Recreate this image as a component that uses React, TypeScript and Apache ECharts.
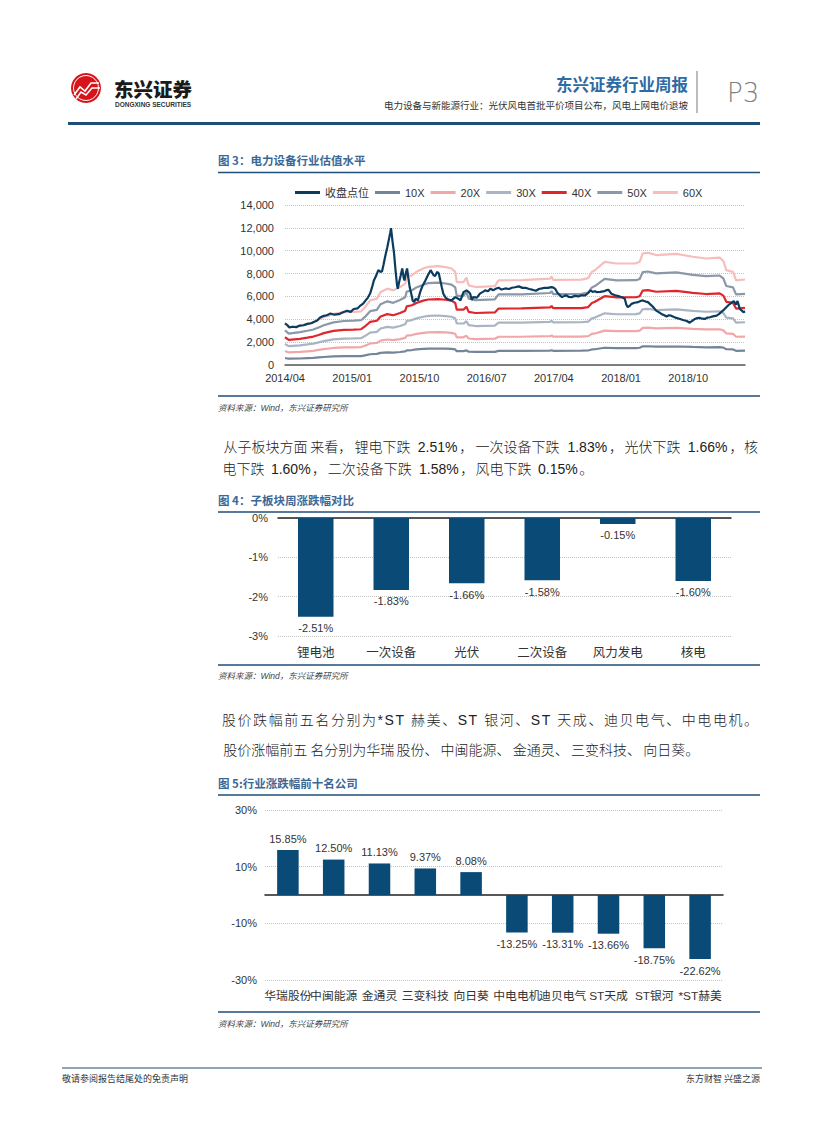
import React, { useEffect, useRef } from "react";
import * as echarts from "echarts";

// ---------------- Data ----------------
// Figure 3: 电力设备行业估值水平 (x = months since 2014/04)
const closeSeries: number[][] = [
  [0, 3650], [0.3, 3500], [0.6, 3280], [1.0, 3350], [1.5, 3300], [2.0, 3450], [2.5, 3480], [3.0, 3600],
  [3.5, 3650], [4.0, 3800], [4.3, 3900], [4.7, 4150], [5.2, 4300], [5.6, 4350], [6.1, 4500], [6.6, 4400],
  [7.2, 4450], [7.7, 4600], [8.3, 4750], [8.8, 4650], [9.2, 4900], [9.7, 4950], [10.1, 5200], [10.5, 5400],
  [10.8, 5650], [11.1, 5900], [11.4, 6250], [11.7, 6900], [11.9, 7400], [12.2, 7800], [12.5, 8300], [12.8, 8150],
  [13.0, 8200], [13.2, 8800], [13.4, 9450], [13.7, 10300], [13.9, 10950], [14.1, 11600], [14.2, 11970], [14.4, 10800],
  [14.6, 9800], [14.8, 8300], [15.0, 7000], [15.1, 6680], [15.3, 7300], [15.5, 7850], [15.7, 8450], [15.9, 7600],
  [16.0, 7400], [16.2, 8100], [16.35, 8450], [16.5, 7700], [16.7, 6800], [16.9, 6250], [17.1, 5650], [17.3, 5500],
  [17.5, 5800], [17.8, 5650], [18.1, 6380], [18.4, 6900], [18.8, 7400], [19.1, 7800], [19.5, 8300], [19.9, 7850],
  [20.1, 7800], [20.4, 8150], [20.6, 8000], [20.8, 7400], [21.0, 6800], [21.2, 6240], [21.5, 5900], [21.7, 5800],
  [22.0, 5700], [22.3, 5650], [22.8, 5940], [23.2, 5800], [23.5, 5650], [23.9, 6380], [24.3, 6530], [24.6, 6400],
  [24.8, 6240], [25.0, 5700], [25.2, 5940], [25.7, 5900], [26.1, 6240], [26.5, 6400], [26.8, 6530], [27.2, 6450],
  [27.5, 6680], [27.9, 6550], [28.3, 6700], [28.6, 6760], [29.0, 6600], [29.5, 6700], [30.0, 6650], [30.4, 6760],
  [30.8, 6800], [31.3, 6880], [31.8, 6750], [32.2, 6760], [32.7, 6650], [33.1, 6590], [33.6, 6500], [34.0, 6650],
  [34.4, 6700], [34.8, 6760], [35.2, 6750], [35.7, 6820], [36.0, 6750], [36.2, 6650], [36.4, 6400], [36.6, 6240],
  [36.9, 6050], [37.1, 5940], [37.4, 6050], [37.7, 6090], [38.0, 5950], [38.4, 5940], [38.8, 6050], [39.3, 6000],
  [39.7, 6100], [40.2, 6090], [40.6, 6300], [40.9, 6530], [41.2, 6400], [41.5, 6450], [41.7, 6380], [42.2, 6400],
  [42.8, 6470], [43.1, 6550], [43.3, 6590], [43.7, 6240], [44.2, 6100], [44.8, 6000], [45.2, 5900], [45.5, 5800],
  [45.7, 5300], [45.9, 5060], [46.2, 5200], [46.4, 5350], [46.8, 5450], [47.3, 5500], [47.6, 5600], [47.9, 5650],
  [48.3, 5550], [48.6, 5500], [49.1, 5200], [49.4, 5000], [49.7, 4760], [50.1, 4600], [50.4, 4470], [50.8, 4350],
  [51.1, 4240], [51.4, 4350], [51.7, 4320], [52.1, 4200], [52.4, 4120], [52.8, 4050], [53.3, 3940], [53.8, 3850],
  [54.2, 3700], [54.5, 3850], [54.9, 4030], [55.2, 4100], [55.5, 4120], [55.9, 4050], [56.2, 4030], [56.6, 4150],
  [56.9, 4180], [57.3, 4250], [57.8, 4320], [58.1, 4450], [58.4, 4620], [58.8, 4850], [59.1, 5060], [59.4, 5250],
  [59.6, 5350], [59.9, 5500], [60.1, 5590], [60.4, 5290], [60.6, 5600], [60.9, 4910], [61.1, 4800], [61.4, 4620],
  [61.6, 4700],
];

const bandMonths = [
  0, 0.5, 2, 3, 3.8, 4.5, 5.2, 6.5, 7.9, 9.2, 10.2, 10.7, 11.4, 12.3, 12.8, 13.7, 14.5, 15.4, 16.1, 16.3,
  17, 17.6, 18.5, 19.2, 20.5, 21.5, 22.3, 22.8, 23, 23.9, 24.3, 24.6, 25.5, 28.1, 28.6, 31.7, 35.5, 35.7, 35.9, 39.7,
  40.6, 41.1, 41.5, 42.8, 44.4, 47, 47.5, 47.9, 48.6, 49.7, 52.4, 54.6, 56.4, 58.2, 58.7, 59.1, 60, 60.4, 61.6,
];
const pe60 = [
  3650, 3300, 3440, 3600, 3730, 3950, 4180, 4470, 4620, 4650, 4700, 5050, 5650, 5800, 6380, 6680, 6530, 6820, 7120, 7700,
  7850, 8150, 8440, 8590, 8650, 8560, 8440, 8150, 7260, 7260, 7650, 6970, 6820, 6900, 7410, 7420, 7560, 7760, 7450, 7470,
  7600, 8150, 8290, 9030, 8880, 8900, 9030, 9760, 9820, 9620, 9720, 9470, 9320, 9400, 9100, 8290, 8150, 7410, 7480,
];
const pe50 = [
  3040, 2750, 2870, 3000, 3110, 3290, 3480, 3730, 3850, 3880, 3920, 4210, 4710, 4830, 5320, 5570, 5440, 5680, 5930, 6420,
  6540, 6790, 7030, 7160, 7210, 7130, 7030, 6790, 6050, 6050, 6380, 5810, 5680, 5750, 6180, 6180, 6300, 6470, 6210, 6230,
  6330, 6790, 6910, 7530, 7400, 7420, 7530, 8130, 8180, 8020, 8100, 7890, 7770, 7830, 7580, 6910, 6790, 6180, 6230,
];
const pe40 = [
  2430, 2200, 2290, 2400, 2490, 2630, 2790, 2980, 3080, 3100, 3130, 3370, 3770, 3870, 4250, 4450, 4350, 4550, 4750, 5130,
  5230, 5430, 5630, 5730, 5770, 5710, 5630, 5430, 4840, 4840, 5100, 4650, 4550, 4600, 4940, 4950, 5040, 5170, 4970, 4980,
  5070, 5430, 5530, 6020, 5920, 5930, 6020, 6510, 6550, 6410, 6480, 6310, 6210, 6270, 6070, 5530, 5430, 4940, 4990,
];
const pe30 = [
  1830, 1650, 1720, 1800, 1870, 1980, 2090, 2240, 2310, 2330, 2350, 2530, 2830, 2900, 3190, 3340, 3270, 3410, 3560, 3850,
  3930, 4080, 4220, 4300, 4330, 4280, 4220, 4080, 3630, 3630, 3830, 3490, 3410, 3450, 3710, 3710, 3780, 3880, 3730, 3740,
  3800, 4080, 4150, 4520, 4440, 4450, 4520, 4880, 4910, 4810, 4860, 4740, 4660, 4700, 4550, 4150, 4080, 3710, 3740,
];
const pe20 = [
  1220, 1100, 1150, 1200, 1240, 1320, 1390, 1490, 1540, 1550, 1570, 1680, 1880, 1930, 2130, 2230, 2180, 2270, 2370, 2570,
  2620, 2720, 2810, 2860, 2880, 2850, 2810, 2720, 2420, 2420, 2550, 2320, 2270, 2300, 2470, 2470, 2520, 2590, 2480, 2490,
  2530, 2720, 2760, 3010, 2960, 2970, 3010, 3250, 3270, 3210, 3240, 3160, 3110, 3130, 3030, 2760, 2720, 2470, 2490,
];
const pe10 = [
  610, 550, 570, 600, 620, 660, 700, 750, 770, 780, 780, 840, 940, 970, 1060, 1110, 1090, 1140, 1190, 1280,
  1310, 1360, 1410, 1430, 1440, 1430, 1410, 1360, 1210, 1210, 1280, 1160, 1140, 1150, 1240, 1240, 1260, 1290, 1240, 1250,
  1270, 1360, 1380, 1510, 1480, 1480, 1510, 1630, 1640, 1600, 1620, 1580, 1550, 1570, 1520, 1380, 1360, 1240, 1250,
];
const lineNames = ["收盘点位", "10X", "20X", "30X", "40X", "50X", "60X"];
const lineColors = ["#0b3c5f", "#74859a", "#f1a7aa", "#a9b5c3", "#e0262d", "#8b98a7", "#f7bcbc"];

// Figure 4: 子板块周涨跌幅对比 (%)
const sectorNames = ["锂电池", "一次设备", "光伏", "二次设备", "风力发电", "核电"];
const sectorChange = [-2.51, -1.83, -1.66, -1.58, -0.15, -1.6];

// Figure 5: 行业涨跌幅前十名公司 (%)
const stockNames = ["华瑞股份", "中闽能源", "金通灵", "三变科技", "向日葵", "中电电机", "迪贝电气", "ST天成", "ST银河", "*ST赫美"];
const stockChange = [15.85, 12.5, 11.13, 9.37, 8.08, -13.25, -13.31, -13.66, -18.75, -22.62];

// ---------------- Helpers ----------------
const SANS = '"Liberation Sans", Arial, "Noto Sans CJK SC", sans-serif';
const CJK = '"Noto Sans CJK SC", sans-serif';
const BAR = "#0a4a76";
const RULE = "#1f4e79";

const monthLabel = (m: number) => {
  const t = 3 + Math.round(m);
  const y = 2014 + Math.floor(t / 12);
  const mo = (t % 12) + 1;
  return `${y}/${mo < 10 ? "0" + mo : mo}`;
};

const isWide = (c: string) => /[\u3000-\u303f\u4e00-\u9fff\uff00-\uffef]/.test(c);
const charW = (c: string, fs: number) => {
  if (isWide(c)) return fs;
  if (c === " " || c === ".") return 0.278 * fs;
  if (/[0-9]/.test(c)) return 0.556 * fs;
  if (c === "%") return 0.889 * fs;
  if (c === "S") return 0.667 * fs;
  if (c === "T") return 0.611 * fs;
  if (c === "*") return 0.389 * fs;
  return 0.556 * fs;
};

function proseLine(
  text: string,
  x0: number,
  y: number,
  fs: number,
  opt: { right?: number; spacing?: number; chunk?: number }
) {
  const chars = Array.from(text);
  const natural = chars.reduce((s, c) => s + charW(c, fs), 0);
  const spacing = opt.right != null ? (opt.right - x0 - natural) / (chars.length - 1) : opt.spacing || 0;
  const maxChunk = opt.chunk || 99;
  const els: any[] = [];
  let x = x0;
  let run = "";
  let runX = 0;
  let kind = "";
  const flush = () => {
    if (!run) return;
    const len = Array.from(run).length;
    els.push({
      type: "text",
      x: runX + (spacing * (len - 1)) / 2,
      y,
      style: {
        text: run,
        fill: "#222",
        fontSize: fs,
        fontFamily: SANS,
        fontWeight: 300,
        textAlign: "left",
        textVerticalAlign: "middle",
        align: "left",
        verticalAlign: "middle",
      },
    });
    run = "";
  };
  for (const c of chars) {
    if (c === " ") {
      flush();
      x += charW(c, fs) + spacing;
      continue;
    }
    const k = isWide(c) ? "w" : "a";
    if (run && (k !== kind || Array.from(run).length >= maxChunk)) flush();
    if (!run) {
      runX = x;
      kind = k;
    }
    run += c;
    x += charW(c, fs) + spacing;
    if (/[，、。：]/.test(c)) flush();
  }
  flush();
  return els;
}

const txt = (text: string, x: number, y: number, o: any = {}) => ({
  type: "text",
  x,
  y,
  style: {
    text,
    fill: o.fill || "#333",
    fontSize: o.fontSize || 9,
    fontFamily: o.fontFamily || SANS,
    fontWeight: o.fontWeight || "normal",
    fontStyle: o.fontStyle || "normal",
    textAlign: o.align || "left",
    textVerticalAlign: "middle",
    align: o.align || "left",
    verticalAlign: "middle",
  },
});
const hline = (x1: number, x2: number, y: number, color: string, w: number) => ({
  type: "line",
  shape: { x1, y1: y, x2, y2: y },
  style: { stroke: color, lineWidth: w },
});

export default function App() {
  const ref = useRef<HTMLDivElement>(null);
  useEffect(() => {
    if (!ref.current) return;
    const chart = echarts.init(ref.current, null, { renderer: "svg" });

    const bands = [pe10, pe20, pe30, pe40, pe50, pe60];
    const lineSeries: any[] = bands.map((arr, i) => ({
      name: lineNames[i + 1],
      type: "line",
      xAxisIndex: 0,
      yAxisIndex: 0,
      symbol: "none",
      color: lineColors[i + 1],
      lineStyle: { width: 2.2, color: lineColors[i + 1] },
      data: bandMonths.map((m, j) => [m, arr[j]]),
      z: 2,
    }));
    lineSeries.push({
      name: lineNames[0],
      type: "line",
      xAxisIndex: 0,
      yAxisIndex: 0,
      symbol: "none",
      color: lineColors[0],
      lineStyle: { width: 2.2, color: lineColors[0] },
      data: closeSeries,
      z: 3,
    });

    const dotted = { show: true, lineStyle: { color: "#c4c4c4", type: "dotted", width: 1 } };
    const valLabel = { fontSize: 11, color: "#333", fontFamily: SANS };

    const graphics: any[] = [
      // header logo
      { type: "circle", shape: { cx: 86, cy: 88, r: 15 }, style: { fill: "#d7141a" } },
      { type: "circle", shape: { cx: 86, cy: 88, r: 12.5 }, style: { fill: null, stroke: "#ffffff", lineWidth: 1 } },
      { type: "polyline", shape: { points: [[74, 95], [80, 87], [85, 91], [91, 83], [99, 83]] }, style: { stroke: "#fff", lineWidth: 1.6, fill: null } },
      { type: "polyline", shape: { points: [[76, 99], [81, 92], [86, 95], [92, 88], [100, 88]] }, style: { stroke: "#fff", lineWidth: 1.6, fill: null } },
      txt("东兴证券", 114, 88, { fontSize: 19.5, fontWeight: 900, fill: "#1a1a1a", fontFamily: CJK }),
      txt("DONGXING SECURITIES", 115, 104, { fontSize: 6.5, fontWeight: "bold", fill: "#333" }),
      txt("东兴证券行业周报", 688, 84, { fontSize: 16.5, fontWeight: "bold", fill: "#2e6aa3", fontFamily: CJK, align: "right" }),
      txt("电力设备与新能源行业：光伏风电首批平价项目公布，风电上网电价退坡", 688, 104.5, { fontSize: 9.5, fill: "#333", fontFamily: CJK, align: "right" }),
      { type: "line", shape: { x1: 697, y1: 71, x2: 697, y2: 113 }, style: { stroke: "#a6a6a6", lineWidth: 1.5 } },
      txt("P3", 727, 93, { fontSize: 26, fill: "#808080", fontFamily: '"DejaVu Sans", sans-serif', fontWeight: 200 }),
      { type: "rect", shape: { x: 68, y: 122, width: 692, height: 3 }, style: { fill: RULE } },

      // figure 3
      txt("图 3：电力设备行业估值水平", 218, 160, { fontSize: 11.5, fontWeight: "bold", fill: "#3d6896", fontFamily: CJK }),
      hline(218, 760, 172.5, RULE, 1.5),
      hline(218, 760, 396, RULE, 1.5),
      txt("资料来源：Wind，东兴证券研究所", 218, 408, { fontSize: 8.5, fontStyle: "italic", fill: "#444" }),

      // prose 1
      ...proseLine("从子板块方面来看，锂电下跌 2.51%，一次设备下跌 1.83%，光伏下跌 1.66%，核", 222, 447, 14, { right: 758, chunk: 6 }),
      ...proseLine("电下跌 1.60%，二次设备下跌 1.58%，风电下跌 0.15%。", 222, 469, 14, { spacing: 0.5, chunk: 6 }),

      // figure 4
      txt("图 4：子板块周涨跌幅对比", 218, 500, { fontSize: 11.5, fontWeight: "bold", fill: "#3d6896", fontFamily: CJK }),
      hline(218, 760, 512, RULE, 1.5),
      hline(218, 760, 665, RULE, 1.5),
      txt("资料来源：Wind，东兴证券研究所", 218, 676, { fontSize: 8.5, fontStyle: "italic", fill: "#444" }),

      // prose 2
      ...proseLine("股价跌幅前五名分别为*ST 赫美、ST 银河、ST 天成、迪贝电气、中电电机。", 222, 720, 14, { right: 758, chunk: 1 }),
      ...proseLine("股价涨幅前五名分别为华瑞股份、中闽能源、金通灵、三变科技、向日葵。", 222, 750, 14, { spacing: 0.5, chunk: 6 }),

      // figure 5
      txt("图 5:行业涨跌幅前十名公司", 218, 783, { fontSize: 11.5, fontWeight: "bold", fill: "#3d6896", fontFamily: CJK }),
      hline(218, 760, 795, RULE, 1.5),
      hline(218, 760, 1012, RULE, 1.5),
      txt("资料来源：Wind，东兴证券研究所", 218, 1024, { fontSize: 8.5, fontStyle: "italic", fill: "#444" }),

      // footer
      hline(62, 762, 1068, RULE, 1.2),
      txt("敬请参阅报告结尾处的免责声明", 62, 1078, { fontSize: 9, fill: "#333", fontFamily: CJK }),
      txt("东方财智 兴盛之源", 760, 1078, { fontSize: 9, fill: "#333", fontFamily: CJK, align: "right" }),
    ];

    chart.setOption({
      animation: false,
      backgroundColor: "#ffffff",
      textStyle: { fontFamily: SANS },
      legend: {
        data: lineNames,
        left: 290,
        top: 182,
        icon: "rect",
        itemWidth: 25,
        itemHeight: 3,
        itemGap: 6,
        textStyle: { fontSize: 11, color: "#333", fontFamily: SANS },
      },
      grid: [
        { left: 285, top: 205, width: 460, height: 160 },
        { left: 278, top: 518, width: 453, height: 118 },
        { left: 265, top: 810, width: 458, height: 170 },
      ],
      xAxis: [
        {
          type: "value",
          gridIndex: 0,
          min: 0,
          max: 61.6,
          interval: 9,
          axisLine: { show: true, lineStyle: { color: "#595959", width: 1.5 } },
          axisTick: { show: false },
          splitLine: { show: false },
          axisLabel: { ...valLabel, margin: 7, showMaxLabel: false, formatter: (v: number) => monthLabel(v) },
        },
        {
          type: "category",
          gridIndex: 1,
          data: sectorNames,
          position: "bottom",
          axisLine: { show: false, onZero: false },
          axisTick: { show: false },
          axisLabel: { fontSize: 12.5, color: "#333", fontFamily: CJK, margin: 9, interval: 0 },
        },
        {
          type: "category",
          gridIndex: 1,
          data: sectorNames,
          position: "top",
          axisLine: { show: true, lineStyle: { color: "#222", width: 1.5 } },
          axisTick: { show: false },
          axisLabel: { show: false },
        },
        {
          type: "category",
          gridIndex: 2,
          data: stockNames,
          position: "bottom",
          axisLine: { show: false, onZero: false },
          axisTick: { show: false },
          axisLabel: { fontSize: 11.8, color: "#333", fontFamily: SANS, margin: 10, interval: 0 },
        },
        {
          type: "category",
          gridIndex: 2,
          data: stockNames,
          position: "bottom",
          axisLine: { show: true, onZero: true, lineStyle: { color: "#222", width: 1.5 } },
          axisTick: { show: false },
          axisLabel: { show: false },
        },
      ],
      yAxis: [
        {
          type: "value",
          gridIndex: 0,
          min: 0,
          max: 14000,
          interval: 2000,
          axisLine: { show: false },
          axisTick: { show: false },
          splitLine: dotted,
          axisLabel: { ...valLabel, margin: 11, formatter: (v: number) => v.toLocaleString("en-US") },
        },
        {
          type: "value",
          gridIndex: 1,
          min: -3,
          max: 0,
          interval: 1,
          axisLine: { show: false },
          axisTick: { show: false },
          splitLine: dotted,
          axisLabel: { ...valLabel, margin: 10, formatter: (v: number) => `${v}%` },
        },
        {
          type: "value",
          gridIndex: 2,
          min: -30,
          max: 30,
          interval: 20,
          axisLine: { show: false },
          axisTick: { show: false },
          splitLine: dotted,
          axisLabel: { ...valLabel, margin: 8, formatter: (v: number) => `${v}%` },
        },
      ],
      series: [
        ...lineSeries,
        {
          name: "子板块",
          type: "bar",
          xAxisIndex: 1,
          yAxisIndex: 1,
          barWidth: "47%",
          itemStyle: { color: BAR },
          label: {
            show: true,
            position: "bottom",
            distance: 6,
            ...valLabel,
            formatter: (p: any) => `${p.value.toFixed(2)}%`,
          },
          data: sectorChange,
        },
        {
          name: "个股",
          type: "bar",
          xAxisIndex: 3,
          yAxisIndex: 2,
          barWidth: "47%",
          itemStyle: { color: BAR },
          label: {
            show: true,
            distance: 6,
            ...valLabel,
            formatter: (p: any) => `${p.value.toFixed(2)}%`,
          },
          data: stockChange.map((v) => ({ value: v, label: { position: v >= 0 ? "top" : "bottom" } })),
        },
      ],
      graphic: { elements: graphics },
    });
    return () => chart.dispose();
  }, []);
  return (
    <div
      ref={ref}
      style={{ position: "absolute", left: 0, top: 0, width: 827, height: 1122, background: "#fff" }}
    />
  );
}
